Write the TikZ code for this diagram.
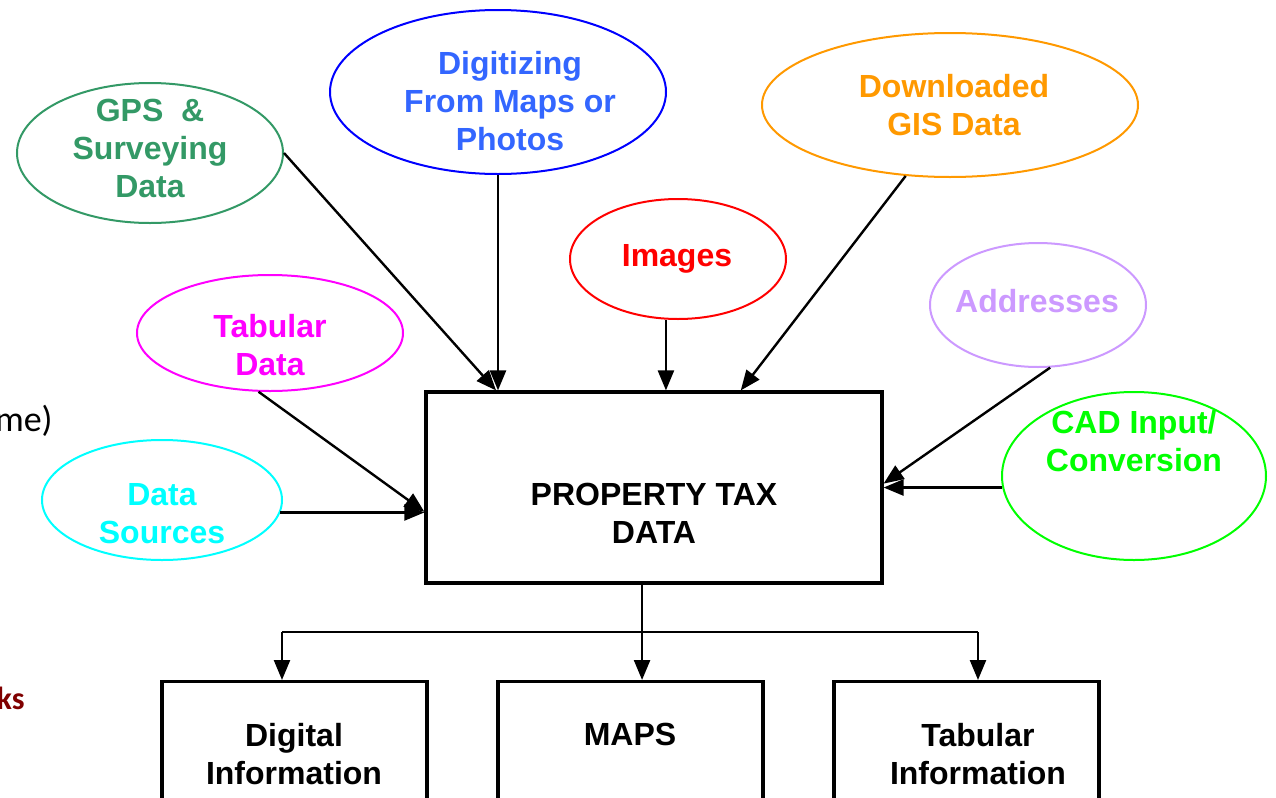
\documentclass[tikz,border=0pt]{standalone}
\usepackage{fontspec}
\setmainfont{Liberation Sans}
\newfontfamily\calibrifont{Carlito}
\usetikzlibrary{shapes.geometric,arrows.meta,calc}
\definecolor{gpsgreen}{HTML}{339966}
\definecolor{digblue}{HTML}{3366FF}
\definecolor{borderblue}{HTML}{0000FF}
\definecolor{dlorange}{HTML}{FF9900}
\definecolor{imgred}{HTML}{FF0000}
\definecolor{addrlilac}{HTML}{CC99FF}
\definecolor{tabmagenta}{HTML}{FF00FF}
\definecolor{dscyan}{HTML}{00FFFF}
\definecolor{cadgreen}{HTML}{00FF00}
\definecolor{darkmaroon}{HTML}{800000}
\tikzset{
  src/.style={ellipse, draw, line width=1pt, inner sep=0pt, fill=white},
  srctext/.style={font=\bfseries\fontsize{16}{19}\selectfont, align=center, inner sep=0pt},
  box/.style={rectangle, draw, line width=1.6pt, inner sep=0pt, fill=white},
  boxtext/.style={font=\bfseries\fontsize{16}{19}\selectfont, align=center, inner sep=0pt},
  arr/.style={line width=1.2pt, -{Triangle[length=10pt,width=8pt]}},
  plain/.style={line width=1.2pt}
}
\begin{document}
\begin{tikzpicture}[x=0.5pt,y=-0.5pt]
\clip (0,0) rectangle (1276,798);
\fill[white] (0,0) rectangle (1276,798);

% fragments of surrounding text at the left edge
\node[anchor=east, inner sep=0pt, font=\calibrifont\fontsize{18}{20}\selectfont] (frag1) at (53,421) {me)};
\node[anchor=east, inner sep=0pt, font=\calibrifont\bfseries\fontsize{16}{18}\selectfont, text=darkmaroon] (frag2) at (25,698) {ks};

% central box
\node[box, minimum width=228pt, minimum height=95.5pt] (tax) at (654,487.5) {};
\node[boxtext] (taxT) at (654,513) {PROPERTY TAX\\DATA};

% source ellipses
\node[src, draw=gpsgreen, minimum width=133pt, minimum height=70pt] (gps) at (150,153) {};
\node[srctext, text=gpsgreen] (gpsT) at (150,148) {GPS\ \ \&\\Surveying\\Data};

\node[src, draw=borderblue, minimum width=168pt, minimum height=82pt] (dig) at (498,92) {};
\node[srctext, text=digblue] (digT) at (510,101) {Digitizing\\From Maps or\\Photos};

\node[src, draw=dlorange, minimum width=188pt, minimum height=72pt] (dl) at (950,105) {};
\node[srctext, text=dlorange] (dlT) at (954,105) {Downloaded\\GIS Data};

\node[src, draw=imgred, minimum width=108pt, minimum height=60pt] (img) at (678,259) {};
\node[srctext, text=imgred] (imgT) at (677,259) {Images};

\node[src, draw=addrlilac, minimum width=108pt, minimum height=62pt] (addr) at (1038,305) {};
\node[srctext, text=addrlilac] (addrT) at (1037,301) {Addresses};

\node[src, draw=tabmagenta, minimum width=133pt, minimum height=58pt] (tab) at (270,333) {};
\node[srctext, text=tabmagenta] (tabT) at (270,345) {Tabular\\Data};

\node[src, draw=dscyan, minimum width=120pt, minimum height=60pt] (ds) at (162,500) {};
\node[srctext, text=dscyan] (dsT) at (162,514) {Data\\Sources};

\node[src, draw=cadgreen, minimum width=132pt, minimum height=84pt] (cad) at (1134,476) {};
\node[srctext, text=cadgreen] (cadT) at (1134,441) {CAD Input/\\Conversion};

% output boxes (run past the lower edge)
\node[box, anchor=north, minimum width=132.5pt, minimum height=80pt] (digi) at (294.5,680) {};
\node[boxtext] (digiT) at (294,754) {Digital\\Information};
\node[box, anchor=north, minimum width=132.5pt, minimum height=80pt] (maps) at (630.5,680) {};
\node[boxtext] (mapsT) at (630,734) {MAPS};
\node[box, anchor=north, minimum width=132.5pt, minimum height=80pt] (tabi) at (966.5,680) {};
\node[boxtext] (tabiT) at (978,754) {Tabular\\Information};

% entry points on the central box
\coordinate (inTop) at ($(tax.north west)!0.156!(tax.north east)$);
\coordinate (inDl) at ($(tax.north west)!0.689!(tax.north east)$);
\coordinate (inImg) at ($(tax.north west)!0.526!(tax.north east)$);
\coordinate (inLeft) at ($(tax.north west)!0.625!(tax.south west)$);
\coordinate (inAddr) at ($(tax.north east)!0.48!(tax.south east)$);
\coordinate (outDown) at ($(tax.south west)!0.474!(tax.south east)$);

% inputs
\draw[arr] (gps.east) -- (inTop);
\draw[arr] (dig.south) -- (dig.south |- tax.north);
\draw[arr] (inImg |- img.south) -- (inImg);
\draw[arr] (dl.238) -- (inDl);
\draw[arr] (addr.281) -- (inAddr);
\draw[arr] (cad.185) -- (cad.185 -| tax.east);
\draw[arr] (tab.259) -- (inLeft);
\draw[arr] (ds.-6) -- (ds.-6 -| tax.west);

% outputs
\coordinate (busL) at (282,632);
\coordinate (busR) at (978,632);
\draw[arr] (outDown) -- (outDown |- maps.north);
\draw[plain] (busL) -- (busR);
\draw[arr] (busL) -- (busL |- digi.north);
\draw[arr] (busR) -- (busR |- tabi.north);
\end{tikzpicture}
\end{document}
